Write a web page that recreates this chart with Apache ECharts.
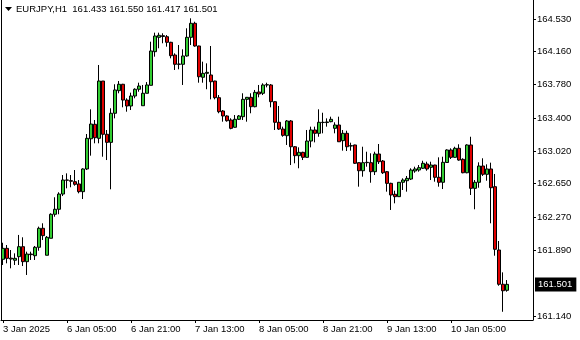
<!DOCTYPE html>
<html>
<head>
<meta charset="utf-8">
<script src="https://cdn.jsdelivr.net/npm/echarts@6/dist/echarts.min.js"></script>
<style>
html,body{margin:0;padding:0;background:#fff;}
#chart{width:580px;height:340px;}
</style>
</head>
<body>
<div id="chart"></div>
<script>
// ---- DATA ----
const symbolTitle = 'EURJPY,H1';
const headerValues = ['161.433', '161.550', '161.417', '161.501'];

// hourly bars: [day, firstHour, lastHour]
const sessionDays = [[3, 13, 23], [6, 0, 23], [7, 0, 23], [8, 0, 23], [9, 0, 23], [10, 0, 19]];

const opens = [
161.787,161.912,161.800,161.776,161.817,161.931,161.760,161.847,161.828,161.924,
162.141,161.833,162.027,162.301,162.358,162.532,162.692,162.685,162.673,162.647,
162.559,162.818,163.163,163.328,163.168,163.822,163.214,163.122,163.454,163.712,
163.785,163.605,163.537,163.651,163.728,163.540,163.682,163.773,164.157,164.321,
164.340,164.328,164.264,164.119,164.013,164.013,164.108,164.321,164.481,164.222,
163.865,163.910,163.891,163.822,163.632,163.480,163.423,163.377,163.294,163.385,
163.415,163.613,163.636,163.529,163.697,163.682,163.777,163.777,163.586,163.351,
163.274,163.198,163.366,163.072,162.970,163.008,162.951,163.137,163.263,163.225,
163.351,163.348,163.358,163.282,163.320,163.141,163.225,163.080,163.092,162.890,
162.798,162.890,162.890,162.787,162.989,162.909,162.787,162.654,162.529,162.502,
162.666,162.684,162.703,162.795,162.806,162.826,162.875,162.837,162.863,162.723,
162.666,162.892,163.035,162.951,163.054,162.928,162.775,163.092,162.597,162.666,
162.852,162.757,162.818,162.616,161.893,161.502,161.433
];
const closes = [
161.912,161.798,161.790,161.798,161.931,161.760,161.847,161.840,161.924,162.141,
162.057,162.038,162.301,162.358,162.532,162.692,162.690,162.678,162.643,162.559,
162.818,163.168,163.331,163.175,163.822,163.214,163.122,163.454,163.720,163.785,
163.605,163.537,163.651,163.728,163.765,163.682,163.777,164.165,164.336,164.344,
164.330,164.264,164.111,164.013,164.016,164.108,164.321,164.481,164.222,163.871,
163.910,163.921,163.814,163.632,163.472,163.423,163.369,163.282,163.385,163.423,
163.613,163.636,163.529,163.693,163.674,163.777,163.780,163.586,163.351,163.274,
163.202,163.366,163.072,162.970,163.008,162.951,163.137,163.263,163.225,163.351,
163.348,163.355,163.385,163.320,163.129,163.225,163.072,163.084,162.883,162.798,
162.890,162.894,162.787,162.989,162.901,162.775,162.654,162.521,162.502,162.666,
162.692,162.711,162.806,162.818,162.833,162.883,162.818,162.863,162.723,162.666,
162.894,163.035,162.951,163.054,162.920,162.775,163.092,162.597,162.666,162.852,
162.757,162.818,162.604,161.901,161.502,161.428,161.501
];
const lows = [
161.722,161.741,161.684,161.722,161.722,161.710,161.608,161.779,161.779,161.885,
162.007,161.833,162.027,162.273,162.301,162.509,162.597,162.609,162.627,162.540,
162.475,162.806,162.970,163.111,163.111,162.958,162.920,162.586,163.396,163.682,
163.522,163.472,163.491,163.625,163.700,163.540,163.682,163.773,164.100,164.196,
164.253,164.214,164.081,163.948,163.956,163.777,164.100,164.233,164.214,163.803,
163.803,163.728,163.613,163.613,163.454,163.358,163.358,163.271,163.290,163.377,
163.377,163.358,163.454,163.522,163.636,163.662,163.750,163.522,163.263,163.263,
163.186,163.092,162.863,162.883,162.826,162.920,162.948,163.065,163.122,163.186,
163.225,163.301,163.351,163.225,163.127,163.027,163.023,163.027,162.875,162.616,
162.730,162.844,162.661,162.749,162.875,162.761,162.559,162.350,162.426,162.500,
162.578,162.559,162.692,162.775,162.787,162.818,162.798,162.692,162.673,162.616,
162.589,162.890,162.932,162.947,162.912,162.769,162.769,162.521,162.358,162.604,
162.738,162.684,162.198,161.828,161.485,161.188,161.417
];
const highs = [
161.976,161.950,161.893,161.855,162.065,162.038,161.874,161.874,161.939,162.160,
162.198,162.053,162.312,162.495,162.552,162.749,162.768,162.749,162.806,162.692,
162.826,163.217,163.499,163.377,164.005,163.822,163.263,163.511,163.785,163.822,
163.790,163.625,163.689,163.739,163.803,163.777,163.810,164.271,164.374,164.374,
164.367,164.347,164.270,164.138,164.233,164.184,164.424,164.538,164.499,164.225,
164.043,164.024,164.222,163.825,163.662,163.491,163.431,163.397,163.434,163.434,
163.682,163.640,163.682,163.720,163.777,163.796,163.803,163.788,163.590,163.537,
163.301,163.377,163.377,163.080,163.065,163.015,163.263,163.301,163.301,163.499,
163.460,163.396,163.415,163.351,163.415,163.263,163.255,163.118,163.095,162.893,
163.072,163.015,162.997,163.015,163.103,162.920,162.795,162.661,162.570,162.668,
162.711,162.738,162.826,162.844,162.863,162.912,162.901,162.901,162.866,162.951,
162.958,163.043,163.054,163.072,163.100,162.940,163.100,163.186,162.692,162.894,
162.940,162.871,162.890,162.761,161.996,161.638,161.550
];

const yTickValues = [164.530, 164.160, 163.780, 163.400, 163.020, 162.650, 162.270, 161.890, 161.140];
const xTickIndex = [0, 16, 32, 48, 64, 80, 96, 112];
const xTickLabels = ['3 Jan 2025', '6 Jan 05:00', '6 Jan 21:00', '7 Jan 13:00', '8 Jan 05:00', '8 Jan 21:00', '9 Jan 13:00', '10 Jan 05:00'];
const currentPrice = 161.501;

// ---- BUILD ----
const categories = [];
sessionDays.forEach(function (d) {
  for (let h = d[1]; h <= d[2]; h++) {
    categories.push(d[0] + ' Jan ' + (h < 10 ? '0' : '') + h + ':00');
  }
});
// empty chart-shift space on the right
for (let k = 0; k < 6; k++) categories.push('shift' + k);

const candleData = opens.map(function (o, i) { return [o, closes[i], lows[i], highs[i]]; });

const FONT = 'Liberation Sans';
const isTick = function (idx) { return xTickIndex.indexOf(idx) >= 0; };

const chart = echarts.init(document.getElementById('chart'), null, { renderer: 'canvas' });
chart.setOption({
  animation: false,
  backgroundColor: '#ffffff',
  textStyle: { fontFamily: FONT },
  grid: { left: 1, right: 47, top: 0, bottom: 20, containLabel: false },
  xAxis: {
    type: 'category',
    data: categories,
    boundaryGap: true,
    axisLine: { show: true, lineStyle: { color: '#000', width: 1 } },
    axisTick: { show: true, alignWithLabel: true, length: 3, interval: function (i) { return isTick(i); }, lineStyle: { color: '#000' } },
    axisLabel: {
      show: true,
      interval: function (i) { return isTick(i); },
      formatter: function (v, i) { const k = xTickIndex.indexOf(i); return k >= 0 ? xTickLabels[k] : ''; },
      align: 'left',
      margin: 4,
      color: '#000',
      fontSize: 9.5,
      fontFamily: FONT
    },
    splitLine: { show: false }
  },
  yAxis: [{
    type: 'value',
    position: 'right',
    min: 161.094,
    max: 164.747,
    axisLine: { show: true, lineStyle: { color: '#000', width: 1 } },
    axisTick: { show: true, length: 3, customValues: yTickValues, lineStyle: { color: '#000' } },
    axisLabel: {
      show: true,
      customValues: yTickValues,
      formatter: function (v) { return v.toFixed(3); },
      margin: 4,
      color: '#000',
      fontSize: 9.5,
      fontFamily: FONT
    },
    splitLine: { show: false }
  }, {
    type: 'value',
    position: 'left',
    min: 161.094,
    max: 164.747,
    axisLine: { show: true, lineStyle: { color: '#000', width: 1 } },
    axisTick: { show: false },
    axisLabel: { show: false },
    splitLine: { show: false }
  }],
  series: [{
    type: 'candlestick',
    yAxisIndex: 0,
    data: candleData,
    barWidth: 3,
    itemStyle: {
      color: '#32cd32',
      color0: '#e00000',
      borderColor: '#000',
      borderColor0: '#000',
      borderWidth: 1
    },
    markLine: {
      silent: true,
      symbol: ['none', 'none'],
      lineStyle: { color: 'rgba(0,0,0,0)', width: 0, type: 'solid' },
      label: {
        show: true,
        position: 'end',
        distance: 2,
        formatter: function () { return currentPrice.toFixed(3); },
        backgroundColor: '#000',
        color: '#fff',
        fontSize: 9.5,
        fontFamily: FONT,
        padding: [2, 4, 2, 3]
      },
      emphasis: { disabled: true },
      data: [{ yAxis: currentPrice }]
    }
  }],
  graphic: [{
    type: 'polygon',
    shape: { points: [[5, 7], [12, 7], [8.5, 11]] },
    style: { fill: '#000' }
  }, {
    type: 'text',
    left: 16,
    top: 4,
    style: {
      text: symbolTitle + '  ' + headerValues.join(' '),
      fill: '#000',
      fontSize: 9.5,
      fontFamily: FONT
    }
  }]
});
</script>
</body>
</html>
